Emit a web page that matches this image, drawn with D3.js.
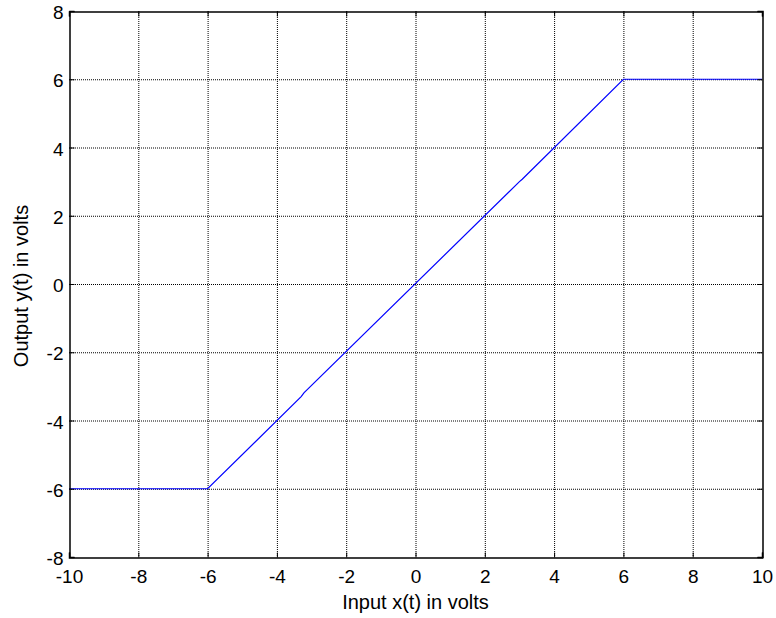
<!DOCTYPE html>
<html><head><meta charset="utf-8">
<script src="https://cdn.jsdelivr.net/npm/d3@7"></script>
<style>body{margin:0;background:#fff}text{font-family:"Liberation Sans",Arial,sans-serif}</style>
</head><body>
<svg id="c" width="776" height="618"></svg>
<script>
const xTicks = [-10,-8,-6,-4,-2,0,2,4,6,8,10];
const yTicks = [-8,-6,-4,-2,0,2,4,6,8];
const inputX = [-10, -6, -3.3, -3.22, 3.0, 3.08, 6, 10];
const outputY = [-6, -6, -3.3, -3.19, 3.0, 3.07, 6, 6];
const xLabel = "Input x(t) in volts";
const yLabel = "Output y(t) in volts";

const L=69, R=762, T=11, B=557;
const svg = d3.select("#c");
const x = d3.scaleLinear().domain([-10,10]).range([L,R]);
const y = d3.scaleLinear().domain([-8,8]).range([B,T]);
const fmt = d => String(d);

// grid
const g = svg.append("g");
g.selectAll(".vx").data(xTicks.slice(1,-1)).enter().append("line")
  .attr("x1",d=>x(d)+0.5).attr("x2",d=>x(d)+0.5).attr("y1",T).attr("y2",B)
  .attr("stroke","#000").attr("stroke-width",1).attr("stroke-dasharray","1,1");
g.selectAll(".hy").data(yTicks.slice(1,-1)).enter().append("line")
  .attr("y1",d=>y(d)+0.5).attr("y2",d=>y(d)+0.5).attr("x1",L).attr("x2",R)
  .attr("stroke","#000").attr("stroke-width",1).attr("stroke-dasharray","1,1");

// line
const line = d3.line().x((d,i)=>x(inputX[i])).y(d=>y(d));
svg.append("path").datum(outputY).attr("d",line).attr("fill","none")
  .attr("stroke","#0000ff").attr("stroke-width",1.2);

// axes
const ax = svg.append("g").attr("transform",`translate(0,${B+0.5})`)
  .call(d3.axisBottom(x).tickValues(xTicks).tickSize(-5).tickPadding(12).tickFormat(fmt));
const axT = svg.append("g").attr("transform",`translate(0,${T+0.5})`)
  .call(d3.axisTop(x).tickValues(xTicks).tickSize(-5).tickFormat(""));
const ay = svg.append("g").attr("transform",`translate(${L+0.5},0)`)
  .call(d3.axisLeft(y).tickValues(yTicks).tickSize(-5).tickPadding(6).tickFormat(fmt));
const ayR = svg.append("g").attr("transform",`translate(${R+0.5},0)`)
  .call(d3.axisRight(y).tickValues(yTicks).tickSize(-5).tickFormat(""));
[ax,axT,ay,ayR].forEach(a=>{
  a.select(".domain").attr("stroke","#000").attr("stroke-width",1.5);
  a.selectAll("line").attr("stroke","#000");
  a.selectAll("text").attr("font-size",19).attr("fill","#000").style("font-family","'Liberation Sans',Arial,sans-serif");
});
ay.selectAll("text").attr("dy","0.4em");

svg.append("text").attr("x",(L+R)/2).attr("y",609).attr("text-anchor","middle")
  .attr("font-size",20).text(xLabel);
svg.append("text").attr("transform",`translate(28,${(T+B)/2 + 2}) rotate(-90)`).attr("text-anchor","middle")
  .attr("font-size",20).text(yLabel);
</script>
</body></html>
